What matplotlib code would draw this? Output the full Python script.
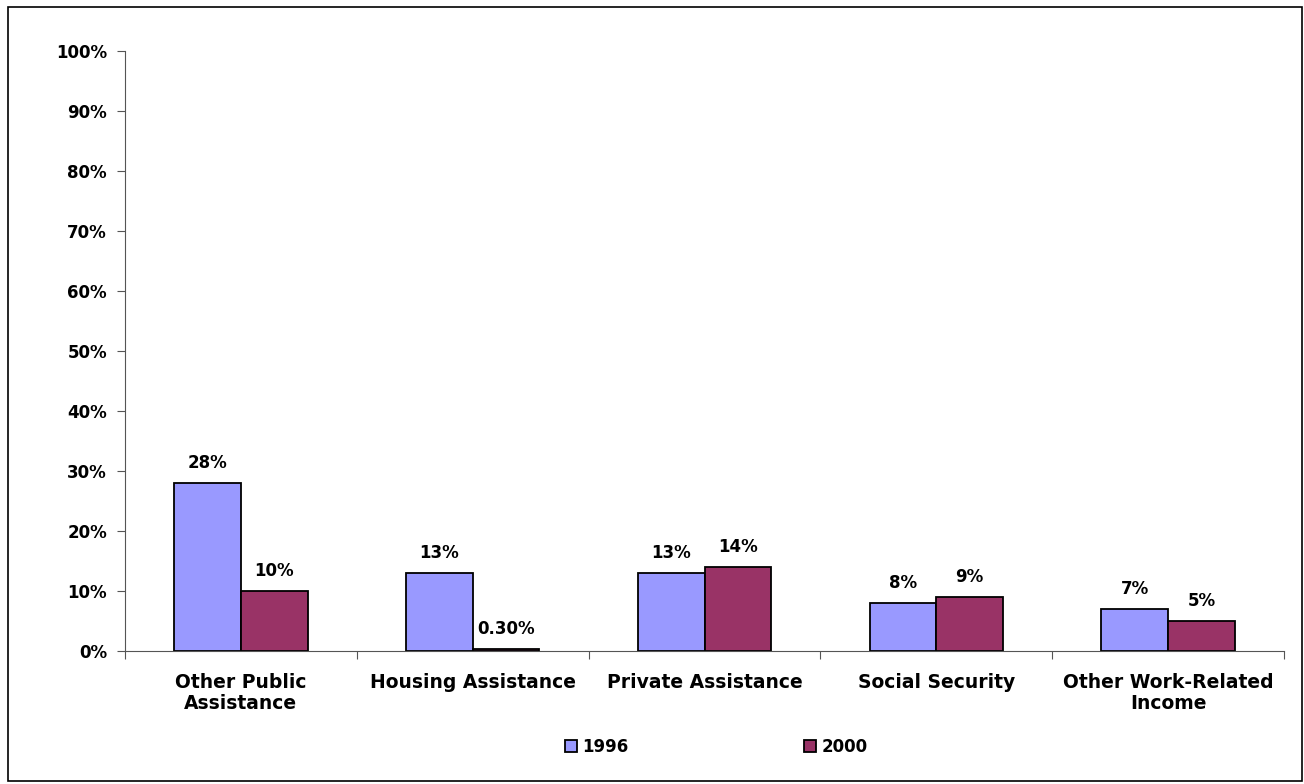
import numpy as np
import matplotlib.pyplot as plt
from matplotlib.patches import Rectangle

categories = ["Other Public\nAssistance", "Housing Assistance", "Private Assistance",
              "Social Security", "Other Work-Related\nIncome"]
vals_1996 = [28, 13, 13, 8, 7]
vals_2000 = [10, 0.3, 14, 9, 5]
labels_1996 = ["28%", "13%", "13%", "8%", "7%"]
labels_2000 = ["10%", "0.30%", "14%", "9%", "5%"]
series_names = ["1996", "2000"]

plt.rcParams['font.family'] = ['DejaVu Sans']
plt.rcParams['font.weight'] = 'bold'

fig = plt.figure(figsize=(13.04, 7.84), dpi=100)
fig.patches.append(Rectangle((8/1304, 3/784), 1294/1304, 774/784, transform=fig.transFigure,
                             fill=False, edgecolor='black', linewidth=1.2))
ax = fig.add_axes([125/1304, 1 - 651/784, 1159/1304, 600/784])

x = np.arange(len(categories))
w = 0.288
b1 = ax.bar(x - w/2, vals_1996, w, color='#9999FF', edgecolor='black', linewidth=1.3, label=series_names[0])
b2 = ax.bar(x + w/2, vals_2000, w, color='#993366', edgecolor='black', linewidth=1.3, label=series_names[1])
ax.bar_label(b1, labels=labels_1996, padding=8, fontsize=12, fontweight='bold')
ax.bar_label(b2, labels=labels_2000, padding=8, fontsize=12, fontweight='bold')

ax.set_xlim(-0.5, len(categories) - 0.5)
ax.set_ylim(0, 100)
ax.set_yticks(range(0, 101, 10))
ax.set_yticklabels([f"{v}%" for v in range(0, 101, 10)], fontsize=12, fontweight='bold')
ax.set_xticks(np.arange(len(categories) + 1) - 0.5)
ax.set_xticklabels([])
ax.set_xticks(x, minor=True)
ax.set_xticklabels(categories, minor=True, fontsize=13.5, fontweight='bold', linespacing=1.15)
ax.tick_params(axis='x', which='minor', length=0, pad=16)
ax.tick_params(axis='x', which='major', length=6, color='#555555')
ax.tick_params(axis='y', length=6, color='#555555', pad=7)
for s in ['top', 'right']:
    ax.spines[s].set_visible(False)
ax.spines['left'].set_color('#555555')
ax.spines['bottom'].set_color('#555555')

ax.legend(loc='center', bbox_to_anchor=(0.51, -0.16), ncol=2, frameon=False,
          handlelength=0.75, handleheight=0.75, handletextpad=0.3, columnspacing=10.5,
          prop={'size': 12, 'weight': 'bold'})

fig.savefig("out.png", dpi=100)
